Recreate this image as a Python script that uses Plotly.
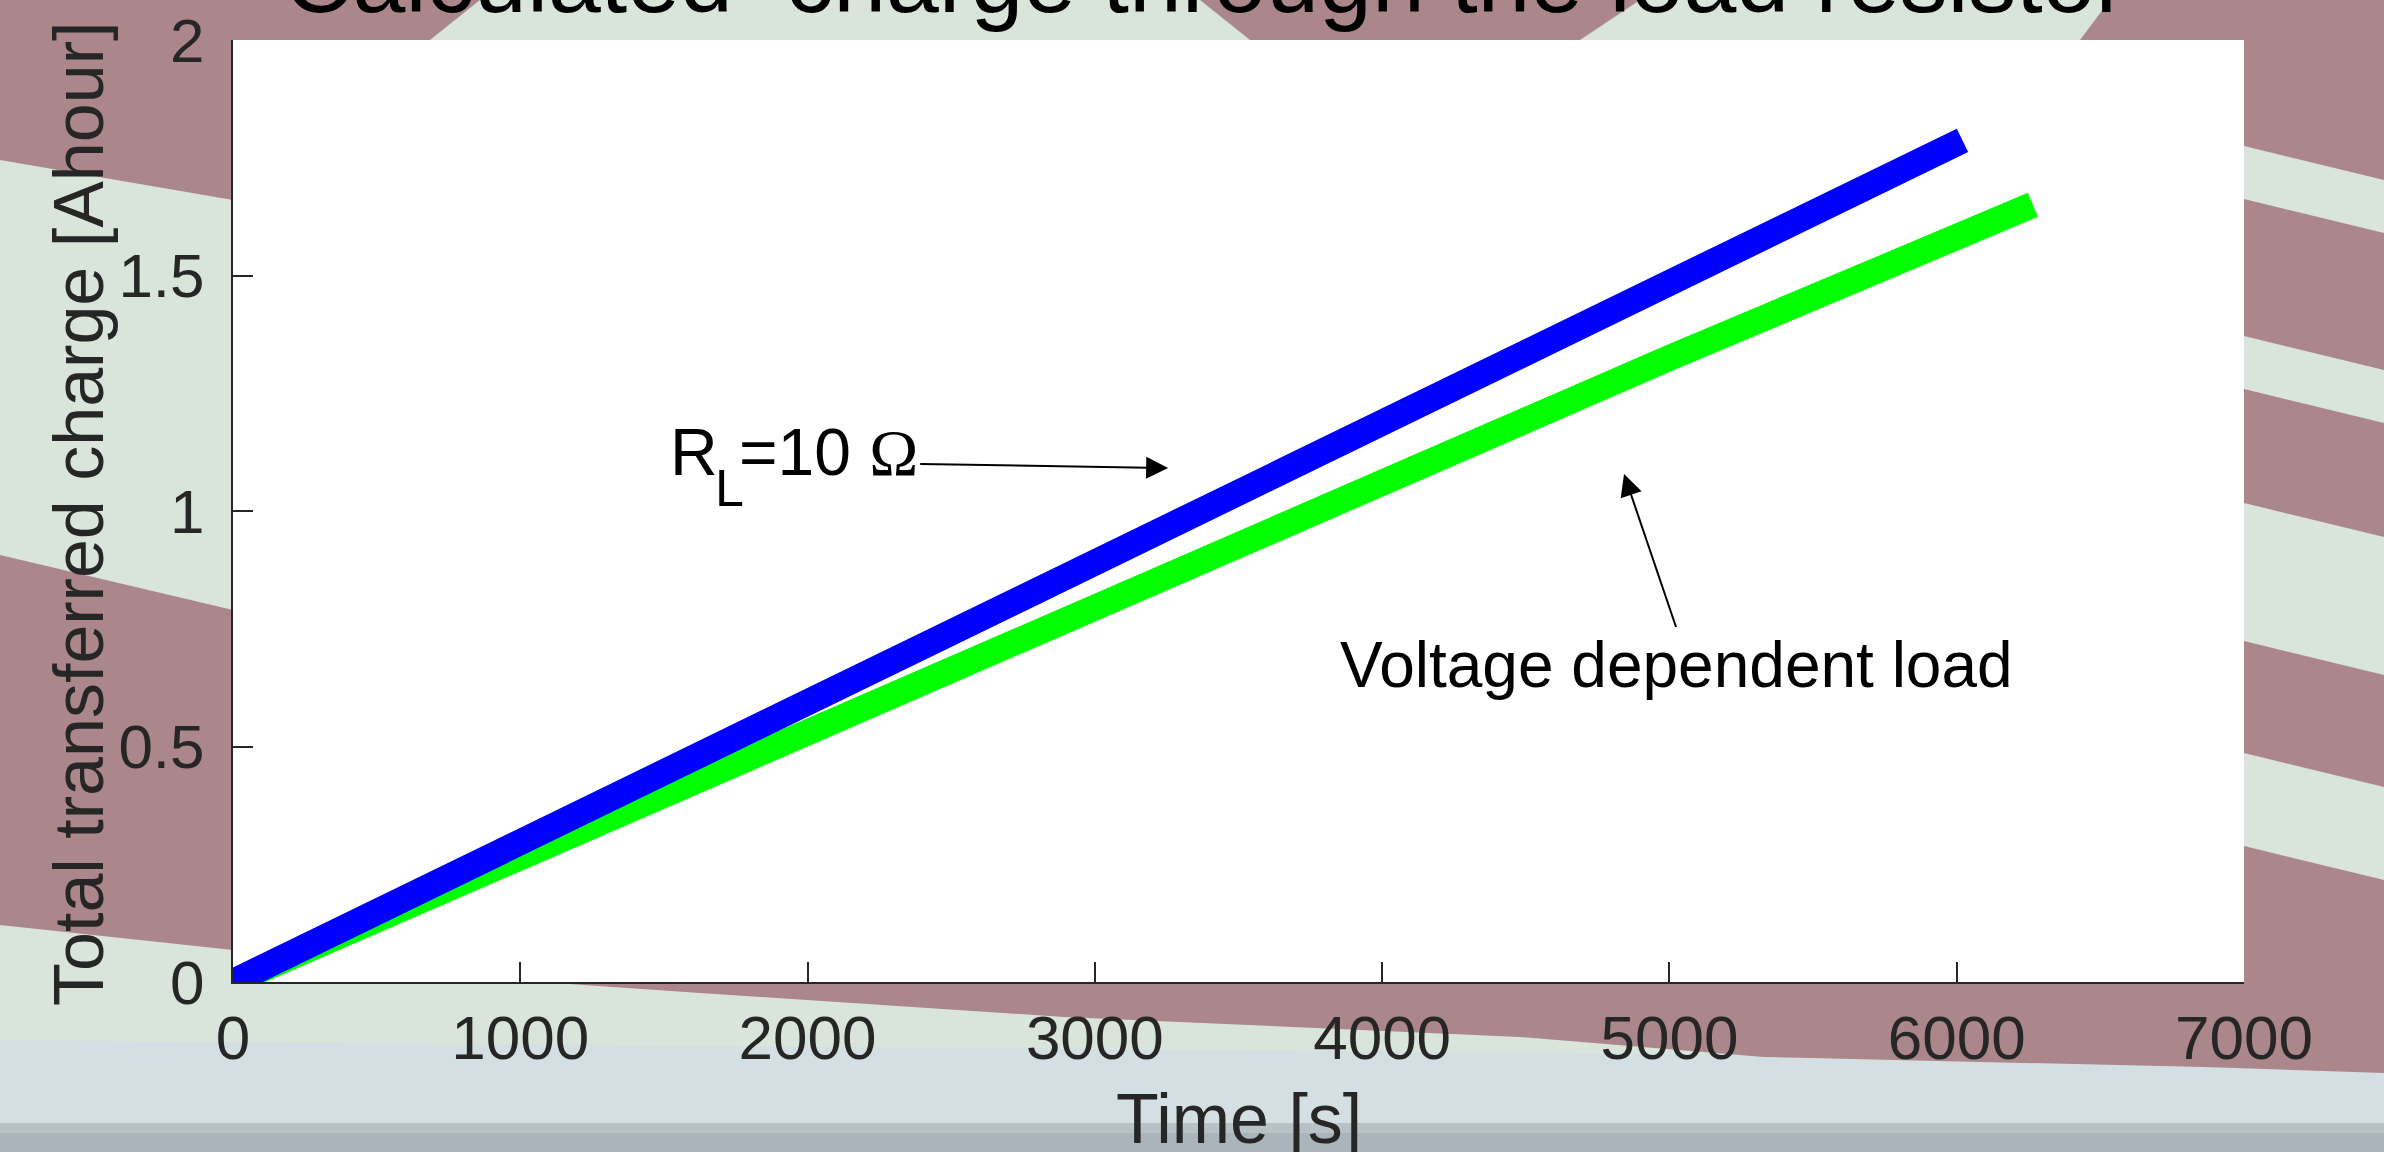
import plotly.graph_objects as go

# ---------------- data ----------------
blue_time = [0, 1000, 2000, 3000, 4000, 5000, 6020]
blue_charge = [0, 0.297, 0.597, 0.895, 1.19, 1.487, 1.787]

green_time = [0, 1000, 2000, 3000, 4000, 5000, 6265]
green_charge = [0, 0.262, 0.528, 0.795, 1.06, 1.325, 1.65]

x_ticks = [0, 1000, 2000, 3000, 4000, 5000, 6000, 7000]
x_tick_labels = ["0", "1000", "2000", "3000", "4000", "5000", "6000", "7000"]
y_ticks = [0, 0.5, 1, 1.5, 2]
y_tick_labels = ["0", "0.5", "1", "1.5", "2"]

title_text = "Calculated  charge through the load resistor"
x_title = "Time [s]"
y_title = "Total transferred charge [Ahour]"
label_r = "R"
label_l = "L"
label_rest = "=10 <span style='font-family:Liberation Serif'>Ω</span>"
label_vdl = "Voltage dependent load"

# ---------------- layout geometry ----------------
W, H = 2384, 1152
L, R, T, B = 233, 140, 40, 170
PW, PH = W - L - R, H - T - B
FONT = "Liberation Sans, Arial, sans-serif"
PINK = "#ab878c"
LIGHT = "#d9e4db"


def px(x, y):
    """figure pixel -> paper coordinates"""
    return (x - L) / PW, (H - B - y) / PH


def ydata(y):
    """figure pixel row -> y data value (range 0..2)"""
    return (H - B - y) / PH * 2


def base_bottom(baseline, size):
    """paper y of a text box bottom whose baseline sits at pixel row `baseline`"""
    return px(0, baseline + 0.212 * size + 2)[1]


def poly(points, color):
    pts = [px(x, y) for x, y in points]
    path = "M " + " L ".join(f"{a:.5f},{b:.5f}" for a, b in pts) + " Z"
    return dict(type="path", xref="paper", yref="paper", path=path,
                fillcolor=color, line=dict(width=0), layer="below")


shapes = []
# slide-like background bands
shapes.append(poly([(0, 0), (480, 0), (430, 40), (300, 110), (233, 200), (0, 160)], PINK))
shapes.append(poly([(0, 555), (233, 610), (233, 950), (0, 925)], PINK))
shapes.append(poly([(1200, 0), (1640, 0), (1580, 40), (1250, 40)], PINK))
shapes.append(poly([(2110, 0), (W, 0), (W, 990), (2200, 990), (2200, 40), (2080, 40)], PINK))
# light stripes on the right margin
for y0, y1 in [(145, 198), (335, 388), (502, 640), (752, 845)]:
    shapes.append(poly([(2240, y0), (W, y0 + 35), (W, y1 + 35), (2240, y1)], LIGHT))
# bluish light zone at bottom
shapes.append(poly([(0, 1040), (W, 1060), (W, 1123), (0, 1123)], "#d3dfe2"))
# pink wedge below the plot
shapes.append(poly([(540, 982), (W, 982), (W, 1073), (2204, 1067), (1764, 1057),
                    (1520, 1037), (1064, 1017), (700, 993)], PINK))
# gray bar at the bottom
shapes.append(poly([(0, 1123), (W, 1123), (W, 1152), (0, 1152)], "#aab5bb"))
shapes.append(poly([(0, 1123), (W, 1123), (W, 1133), (0, 1133)], "#b8c2c6"))
# white plot area
shapes.append(dict(type="rect", xref="paper", yref="paper", x0=0, x1=1, y0=0, y1=1,
                   fillcolor="white", line=dict(width=0), layer="below"))

fig = go.Figure()
fig.add_trace(go.Scatter(x=green_time, y=green_charge, mode="lines",
                         line=dict(color="#00ff00", width=26), cliponaxis=False,
                         showlegend=False))
fig.add_trace(go.Scatter(x=blue_time, y=blue_charge, mode="lines",
                         line=dict(color="#0000ff", width=26), cliponaxis=False,
                         showlegend=False))

axis_common = dict(showline=True, linecolor="#262626", linewidth=2, mirror=False,
                   ticks="inside", ticklen=20, tickwidth=1.5, tickcolor="#262626",
                   showgrid=False, zeroline=False, automargin=False,
                   tickfont=dict(family=FONT, size=62, color="#262626"))

fig.update_xaxes(range=[0, 7000], tickvals=x_ticks, ticktext=x_tick_labels,
                 ticklabelstandoff=1, **axis_common)
fig.update_yaxes(range=[0, 2], tickvals=y_ticks, ticktext=y_tick_labels,
                 ticklabelstandoff=14, **axis_common)

annotations = [
    dict(text=title_text, xref="paper", yref="paper", x=px(1205, 0)[0],
         y=base_bottom(12, 95), xanchor="center", yanchor="bottom", showarrow=False,
         font=dict(family=FONT, size=95, color="black")),
    dict(text=x_title, xref="paper", yref="paper", x=px(1239, 0)[0],
         y=base_bottom(1143, 70), xanchor="center", yanchor="bottom", showarrow=False,
         font=dict(family=FONT, size=70, color="#262626")),
    dict(text=y_title, xref="paper", yref="paper", x=px(79, 0)[0], y=px(0, 514)[1],
         xanchor="center", yanchor="middle", textangle=-90, showarrow=False,
         font=dict(family=FONT, size=70, color="#262626")),
    # R_L = 10 Ohm label with arrow
    dict(text=label_r, xref="paper", yref="paper", x=px(668, 0)[0],
         y=base_bottom(475, 66), xanchor="left", yanchor="bottom", showarrow=False,
         font=dict(family=FONT, size=66, color="black")),
    dict(text=label_l, xref="paper", yref="paper", x=px(713, 0)[0],
         y=base_bottom(506, 52), xanchor="left", yanchor="bottom", showarrow=False,
         font=dict(family=FONT, size=52, color="black")),
    dict(text=label_rest, xref="x", yref="y", x=3255, y=ydata(468), axref="x", ayref="y",
         ax=2392, ay=ydata(464), xanchor="right", yanchor="middle",
         height=98, valign="top", showarrow=True, arrowhead=2, arrowsize=2.2,
         arrowwidth=2, arrowcolor="black",
         font=dict(family=FONT, size=66, color="black")),
    # Voltage dependent load label with arrow
    dict(text=label_vdl, xref="x", yref="y", x=4842, y=ydata(474), axref="x", ayref="y",
         ax=5023, ay=ydata(627), xanchor="center", yanchor="top",
         showarrow=True, arrowhead=2, arrowsize=2.2,
         arrowwidth=2, arrowcolor="black",
         font=dict(family=FONT, size=64, color="black")),
]

fig.update_layout(width=W, height=H, autosize=False,
                  margin=dict(l=L, r=R, t=T, b=B, pad=0),
                  paper_bgcolor=LIGHT, plot_bgcolor="white",
                  shapes=shapes, annotations=annotations, showlegend=False)

fig.write_html("out.html", config={"displayModeBar": False},
               post_script="document.body.style.margin='0';"
                           "document.body.style.overflow='hidden';")
